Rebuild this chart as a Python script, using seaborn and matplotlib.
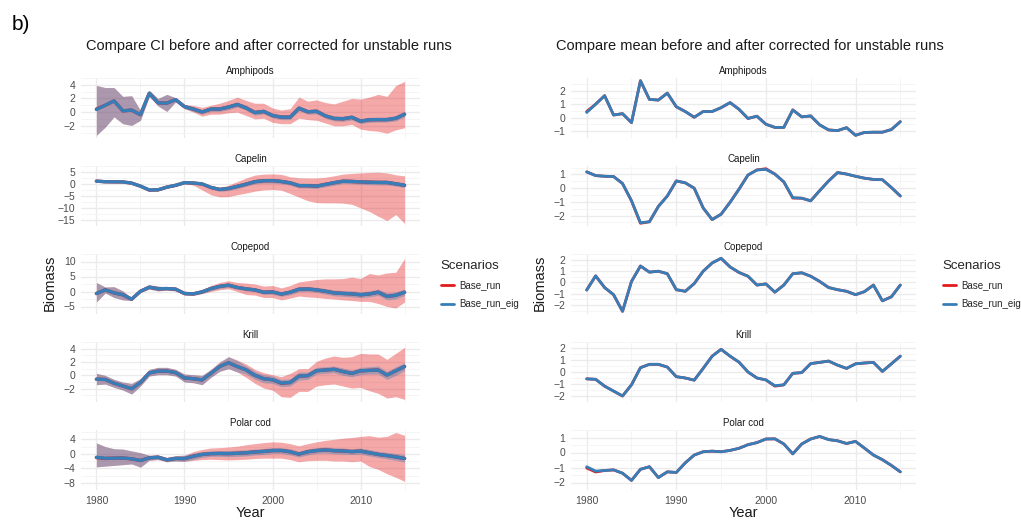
import numpy as np
import pandas as pd
import matplotlib
matplotlib.use("Agg")
import matplotlib.pyplot as plt
import seaborn as sns
from matplotlib.lines import Line2D

# ---------------------------------------------------------------- data
years = list(range(1980, 2016))
species = ["Amphipods", "Capelin", "Copepod", "Krill", "Polar cod"]
scenarios = ["Base_run", "Base_run_eig"]

# scaled mean biomass of the corrected (eig) runs
amph_mean = [0.38, 1.0, 1.64, 0.19, 0.29, -0.38, 2.76, 1.36, 1.31, 1.83, 0.81, 0.45, 0.02, 0.45, 0.45, 0.74, 1.12, 0.62,
             -0.07, 0.1, -0.5, -0.74, -0.74, 0.57, 0.05, 0.12, -0.55, -0.93, -0.98, -0.76, -1.33, -1.12, -1.1, -1.1, -0.9, -0.31]
cape_mean = [1.19, 0.92, 0.87, 0.85, 0.34, -0.92, -2.52, -2.45, -1.33, -0.57, 0.53, 0.39, 0.0, -1.44, -2.29, -1.9, -1.03, -0.07,
             0.96, 1.33, 1.37, 1.03, 0.46, -0.69, -0.73, -0.92, -0.18, 0.53, 1.14, 1.03, 0.87, 0.73, 0.64, 0.62, 0.05, -0.57]
cope_mean = [-0.68, 0.57, -0.46, -1.09, -2.56, 0.08, 1.44, 0.9, 0.98, 0.76, -0.65, -0.79, -0.11, 0.98, 1.71, 2.12, 1.36, 0.87,
             0.54, -0.24, -0.14, -0.87, -0.24, 0.76, 0.84, 0.54, 0.08, -0.46, -0.65, -0.79, -1.09, -0.82, -0.24, -1.63, -1.28, -0.24]
kril_mean = [-0.57, -0.61, -1.18, -1.59, -2.0, -1.07, 0.36, 0.64, 0.64, 0.41, -0.39, -0.5, -0.68, 0.3, 1.32, 1.89, 1.32, 0.82,
             0.0, -0.5, -0.66, -1.14, -1.07, -0.11, -0.05, 0.7, 0.8, 0.91, 0.57, 0.3, 0.68, 0.75, 0.8, 0.05, 0.68, 1.32]
pcod_mean = [-0.95, -1.24, -1.2, -1.16, -1.38, -1.86, -1.12, -0.95, -1.67, -1.29, -1.33, -0.69, -0.17, 0.05, 0.09, 0.05, 0.14, 0.28,
             0.52, 0.66, 0.9, 0.91, 0.57, -0.09, 0.57, 0.9, 1.07, 0.86, 0.78, 0.6, 0.74, 0.29, -0.17, -0.48, -0.86, -1.29]

# years where the uncorrected mean departs from the corrected one
amph_base_diff = {1980: 0.45}
cape_base_diff = {1986: -2.56, 2000: 1.42, 2003: -0.72}
cope_base_diff = {}
kril_base_diff = {2001: -1.18}
pcod_base_diff = {1980: -1.03, 1981: -1.3}

# confidence interval, uncorrected runs
amph_base_hi = [3.9, 3.6, 3.6, 2.3, 2.4, 0.25, 3.2, 2.0, 2.6, 2.1, 1.1, 1.0, 0.7, 1.0, 1.3, 1.7, 2.2, 1.7,
                1.3, 1.3, 0.6, 0.3, 0.5, 2.2, 1.6, 1.8, 1.4, 1.2, 1.6, 2.0, 1.9, 2.2, 2.6, 2.3, 3.9, 4.5]
amph_base_lo = [-3.4, -2.2, -0.7, -1.7, -1.95, -1.2, 2.3, 0.9, 0.1, 1.5, 0.5, 0.0, -0.6, -0.3, -0.3, -0.1, 0.0, -0.5,
                -1.0, -0.9, -1.5, -1.7, -1.7, -0.9, -1.1, -1.2, -1.6, -2.0, -2.0, -1.8, -2.5, -2.7, -2.8, -3.1, -2.6, -2.3]
cape_base_hi = [1.5, 1.2, 1.2, 1.1, 0.6, -0.6, -2.1, -2.0, -0.9, -0.1, 0.9, 0.8, 0.6, -0.8, -1.5, -0.5, 1.0, 2.5,
                3.7, 4.1, 4.2, 4.0, 3.0, 2.6, 2.5, 2.5, 2.8, 3.4, 4.1, 4.4, 4.6, 4.8, 4.9, 4.6, 3.8, 3.4]
cape_base_lo = [0.9, 0.6, 0.6, 0.6, 0.1, -1.3, -2.9, -2.9, -1.8, -1.0, 0.2, -0.5, -2.5, -4.5, -5.4, -5.3, -4.5, -3.8,
                -3.0, -2.5, -2.3, -2.6, -4.0, -5.5, -7.0, -7.8, -7.9, -7.9, -8.0, -8.5, -10.0, -11.5, -13.5, -15.3, -12.8, -16.5]
cope_base_hi = [3.0, 1.5, 1.6, 0.2, -2.1, 0.3, 2.2, 1.8, 1.5, 1.5, -0.2, -0.3, 0.5, 2.0, 3.0, 3.6, 3.0, 2.8,
                2.5, 1.8, 2.0, 1.2, 2.0, 3.2, 3.6, 4.0, 4.2, 4.2, 4.3, 4.8, 4.3, 6.0, 5.5, 6.2, 6.4, 11.0]
cope_base_lo = [-3.5, -0.5, -2.0, -2.8, -3.0, -0.3, 0.8, 0.2, 0.5, 0.2, -1.2, -1.3, -0.7, 0.0, 0.6, 0.9, 0.0, -1.0,
                -1.2, -2.0, -2.0, -2.8, -2.2, -1.5, -1.8, -2.0, -2.3, -2.5, -2.8, -3.0, -3.3, -3.3, -4.0, -5.0, -5.5, -3.5]
kril_base_hi = [0.3, 0.0, -0.6, -1.0, -1.2, -0.5, 0.9, 1.2, 1.2, 0.9, 0.2, 0.1, 0.0, 0.9, 2.0, 2.8, 2.3, 1.7,
                0.9, 0.4, 0.1, -0.2, 0.3, 1.0, 1.0, 2.1, 2.6, 2.9, 2.7, 2.8, 3.3, 3.2, 3.2, 2.4, 3.3, 4.2]
kril_base_lo = [-1.4, -1.3, -1.8, -2.2, -2.8, -1.6, -0.1, 0.1, 0.1, -0.1, -1.0, -1.1, -1.4, -0.3, 0.6, 1.0, 0.5, -0.3,
                -1.2, -1.9, -2.2, -3.2, -3.3, -2.4, -2.4, -1.6, -1.4, -1.3, -1.6, -1.9, -1.8, -2.3, -2.7, -3.4, -3.2, -3.6]
pcod_base_hi = [3.0, 2.0, 1.4, 1.3, 0.8, 0.3, -0.4, -0.3, -1.0, -0.5, -0.4, 0.6, 1.2, 1.6, 1.7, 1.9, 2.1, 2.5,
                2.8, 3.1, 3.3, 3.2, 2.8, 2.2, 2.8, 3.3, 3.7, 4.0, 4.3, 4.5, 4.8, 5.0, 4.6, 4.8, 5.9, 5.1]
pcod_base_lo = [-3.6, -3.4, -3.2, -3.0, -2.8, -3.7, -1.8, -1.6, -2.2, -2.0, -2.1, -1.8, -1.6, -1.5, -1.6, -1.7, -1.6, -1.5,
                -1.3, -1.2, -1.2, -1.2, -1.6, -2.2, -1.9, -1.8, -1.8, -2.0, -2.0, -2.2, -2.0, -3.5, -4.3, -5.5, -6.5, -7.6]

# confidence interval, corrected (eig) runs
amph_eig_hi = [3.9, 3.6, 3.6, 2.3, 2.4, 0.25, 3.2, 2.0, 2.6, 2.1, 1.1, 0.8, 0.35, 0.8, 0.8, 1.1, 1.5, 1.0,
               0.3, 0.45, -0.15, -0.35, -0.35, 0.95, 0.4, 0.5, -0.2, -0.55, -0.6, -0.4, -0.95, -0.75, -0.75, -0.75, -0.5, 0.1]
amph_eig_lo = [-3.4, -2.2, -0.7, -1.7, -1.95, -1.2, 2.3, 0.9, 0.1, 1.5, 0.5, 0.1, -0.3, 0.1, 0.1, 0.35, 0.75, 0.25,
               -0.45, -0.25, -0.85, -1.1, -1.1, 0.2, -0.3, -0.25, -0.9, -1.3, -1.35, -1.15, -1.7, -1.5, -1.45, -1.45, -1.3, -0.7]
cape_eig_hi = [1.5, 1.2, 1.2, 1.1, 0.6, -0.6, -2.1, -2.0, -0.9, -0.1, 0.9, 0.7, 0.5, -0.8, -1.5, -1.0, 0.0, 0.9,
               1.9, 2.3, 2.3, 2.0, 1.4, 0.3, 0.3, 0.1, 0.8, 1.5, 2.1, 2.0, 1.8, 1.7, 1.6, 1.6, 1.0, 0.4]
cape_eig_lo = [0.9, 0.6, 0.6, 0.6, 0.1, -1.3, -2.9, -2.9, -1.8, -1.0, 0.2, 0.1, -0.5, -2.1, -3.1, -2.8, -2.0, -1.0,
               0.0, 0.4, 0.4, 0.1, -0.5, -1.7, -1.7, -1.9, -1.2, -0.5, 0.2, 0.1, -0.1, -0.3, -0.4, -0.4, -0.9, -1.5]
cope_eig_hi = [3.0, 1.5, 1.6, 0.2, -2.1, 0.3, 2.2, 1.8, 1.5, 1.5, -0.2, -0.3, 0.5, 1.7, 2.4, 2.8, 2.0, 1.5,
               1.2, 0.5, 0.6, -0.1, 0.6, 1.6, 1.7, 1.4, 1.0, 0.5, 0.3, 0.2, -0.1, 0.2, 0.8, -0.5, -0.1, 0.8]
cope_eig_lo = [-3.5, -0.5, -2.0, -2.8, -3.0, -0.3, 0.8, 0.2, 0.5, 0.2, -1.2, -1.3, -0.7, 0.3, 1.0, 1.4, 0.7, 0.2,
               -0.1, -1.0, -0.9, -1.6, -1.1, -0.1, 0.0, -0.3, -0.9, -1.4, -1.6, -1.8, -2.1, -1.8, -1.3, -2.8, -2.5, -1.3]
kril_eig_hi = [0.3, 0.0, -0.6, -1.0, -1.2, -0.5, 0.9, 1.2, 1.2, 0.9, 0.2, 0.1, 0.0, 0.9, 2.0, 2.8, 2.2, 1.4,
               0.6, 0.1, -0.1, -0.6, -0.5, 0.5, 0.5, 1.2, 1.3, 1.4, 1.1, 0.8, 1.2, 1.3, 1.4, 0.6, 1.3, 1.9]
kril_eig_lo = [-1.4, -1.3, -1.8, -2.2, -2.8, -1.6, -0.1, 0.1, 0.1, -0.1, -1.0, -1.1, -1.4, -0.3, 0.6, 1.0, 0.5, 0.2,
               -0.6, -1.1, -1.2, -1.7, -1.6, -0.7, -0.6, 0.2, 0.3, 0.4, 0.0, -0.2, 0.1, 0.2, 0.2, -0.6, 0.0, 0.7]
pcod_eig_hi = [3.0, 2.0, 1.4, 1.3, 0.8, 0.3, -0.4, -0.3, -1.0, -0.5, -0.4, 0.2, 0.6, 0.8, 0.9, 0.9, 1.0, 1.1,
               1.3, 1.5, 1.7, 1.7, 1.4, 0.7, 1.4, 1.7, 1.9, 1.7, 1.6, 1.4, 1.6, 1.2, 0.7, 0.4, 0.1, -0.3]
pcod_eig_lo = [-3.6, -3.4, -3.2, -3.0, -2.8, -3.7, -1.8, -1.6, -2.2, -2.0, -2.1, -1.6, -1.0, -0.7, -0.7, -0.8, -0.7, -0.6,
               -0.3, -0.2, 0.1, 0.1, -0.3, -0.9, -0.3, 0.1, 0.2, 0.0, -0.1, -0.2, -0.1, -0.6, -1.0, -1.4, -1.8, -2.3]

left_ticks = [[-2, 0, 2, 4], [-15, -10, -5, 0, 5], [-5, 0, 5, 10], [-2, 0, 2, 4], [-8, -4, 0, 4]]
right_ticks = [[-1, 0, 1, 2], [-2, -1, 0, 1], [-2, -1, 0, 1, 2], [-2, -1, 0, 1, 2], [-2, -1, 0, 1]]
year_ticks = [1980, 1990, 2000, 2010]

# ---------------------------------------------------------------- tidy frames
means = [amph_mean, cape_mean, cope_mean, kril_mean, pcod_mean]
diffs = [amph_base_diff, cape_base_diff, cope_base_diff, kril_base_diff, pcod_base_diff]
base_hi = [amph_base_hi, cape_base_hi, cope_base_hi, kril_base_hi, pcod_base_hi]
base_lo = [amph_base_lo, cape_base_lo, cope_base_lo, kril_base_lo, pcod_base_lo]
eig_hi = [amph_eig_hi, cape_eig_hi, cope_eig_hi, kril_eig_hi, pcod_eig_hi]
eig_lo = [amph_eig_lo, cape_eig_lo, cope_eig_lo, kril_eig_lo, pcod_eig_lo]

rows = []
for i, sp in enumerate(species):
    for j, yr in enumerate(years):
        m_eig = means[i][j]
        m_base = diffs[i].get(yr, m_eig)
        rows.append(dict(Species=sp, Year=yr, Scenario="Base_run", mean=m_base,
                         lo=base_lo[i][j], hi=base_hi[i][j]))
        rows.append(dict(Species=sp, Year=yr, Scenario="Base_run_eig", mean=m_eig,
                         lo=eig_lo[i][j], hi=eig_hi[i][j]))
df = pd.DataFrame(rows)

# ---------------------------------------------------------------- style
sns.set_theme(style="white")
plt.rcParams["font.family"] = ["Liberation Sans", "DejaVu Sans"]
palette = {"Base_run": "#E41A1C", "Base_run_eig": "#377EB8"}
grid_major = "#EBEBEB"
grid_minor = "#F4F4F4"
tick_col = "#4D4D4D"

W, H = 1021, 520
fig = plt.figure(figsize=(W / 100, H / 100), dpi=100)


def px_axes(x0, x1, top, height):
    return fig.add_axes([x0 / W, 1 - (top + height) / H, (x1 - x0) / W, height / H])


tops = [78, 166, 254, 342, 430]
ph = 60


def style_panel(ax, yt, lo, hi, bottom):
    rng = hi - lo
    ax.set_ylim(lo - 0.05 * rng, hi + 0.05 * rng)
    ax.set_xlim(1980 - 1.75, 2015 + 1.75)
    ax.set_yticks(yt)
    ax.set_yticks([(a + b) / 2 for a, b in zip(yt[:-1], yt[1:])]
                  + [yt[0] - (yt[1] - yt[0]) / 2, yt[-1] + (yt[1] - yt[0]) / 2], minor=True)
    ax.set_xticks(year_ticks)
    ax.set_xticks([1985, 1995, 2005, 2015], minor=True)
    ax.grid(which="major", color=grid_major, lw=1.0)
    ax.grid(which="minor", color=grid_minor, lw=0.6)
    ax.set_axisbelow(True)
    for s in ax.spines.values():
        s.set_visible(False)
    ax.tick_params(which="both", length=0, labelsize=7.5, labelcolor=tick_col, pad=4)
    ax.set_xlabel("")
    ax.set_ylabel("")
    if bottom:
        ax.set_xticklabels([str(y) for y in year_ticks])
    else:
        ax.set_xticklabels([])


panels = [(81, 420, True), (571, 916, False)]
for col, (x0, x1, with_ci) in enumerate(panels):
    for i, sp in enumerate(species):
        ax = px_axes(x0, x1, tops[i], ph)
        sub = df[df.Species == sp]
        if with_ci:
            for sc in scenarios:
                s = sub[sub.Scenario == sc]
                ax.fill_between(s.Year, s.lo, s.hi, color=palette[sc], alpha=0.38, lw=0)
            lo = sub.lo.min()
            hi = sub.hi.max()
            lw = 2.4
            yt = left_ticks[i]
        else:
            lo = sub["mean"].min()
            hi = sub["mean"].max()
            lw = 2.0
            yt = right_ticks[i]
        sns.lineplot(data=sub, x="Year", y="mean", hue="Scenario", hue_order=scenarios,
                     palette=palette, lw=lw, legend=False, ax=ax, estimator=None)
        style_panel(ax, yt, lo, hi, i == len(species) - 1)
        ax.set_title(sp, fontsize=7, color="#1A1A1A", pad=3)
        if i == len(species) - 1:
            ax.set_xlabel("Year", fontsize=10.5, color="#1A1A1A", labelpad=0)
    # panel heading and shared y label
    fig.text((x0 + x1) / 2 / W + (0.018 if with_ci else 0.006), 1 - 46 / H,
             "Compare CI before and after corrected for unstable runs" if with_ci
             else "Compare mean before and after corrected for unstable runs",
             ha="center", va="center", fontsize=10.5, color="#1A1A1A")
    fig.text((x0 - 31) / W, 1 - 283 / H, "Biomass", rotation=90, ha="center", va="center",
             fontsize=10.5, color="#1A1A1A")
    # legend
    handles = [Line2D([], [], color=palette[s], lw=2) for s in scenarios]
    lx = 436 if with_ci else 938
    fig.legend(handles, scenarios, title="Scenarios", loc="upper left",
               bbox_to_anchor=(lx / W, 1 - 255 / H), frameon=False, fontsize=7,
               title_fontsize=9.5, handlelength=1.3, labelspacing=0.9, borderpad=0,
               handletextpad=0.6, alignment="left")

fig.text(12 / W, 1 - 24 / H, "b)", fontsize=15, ha="left", va="center", color="#000000")

fig.savefig("out.png", dpi=100)
